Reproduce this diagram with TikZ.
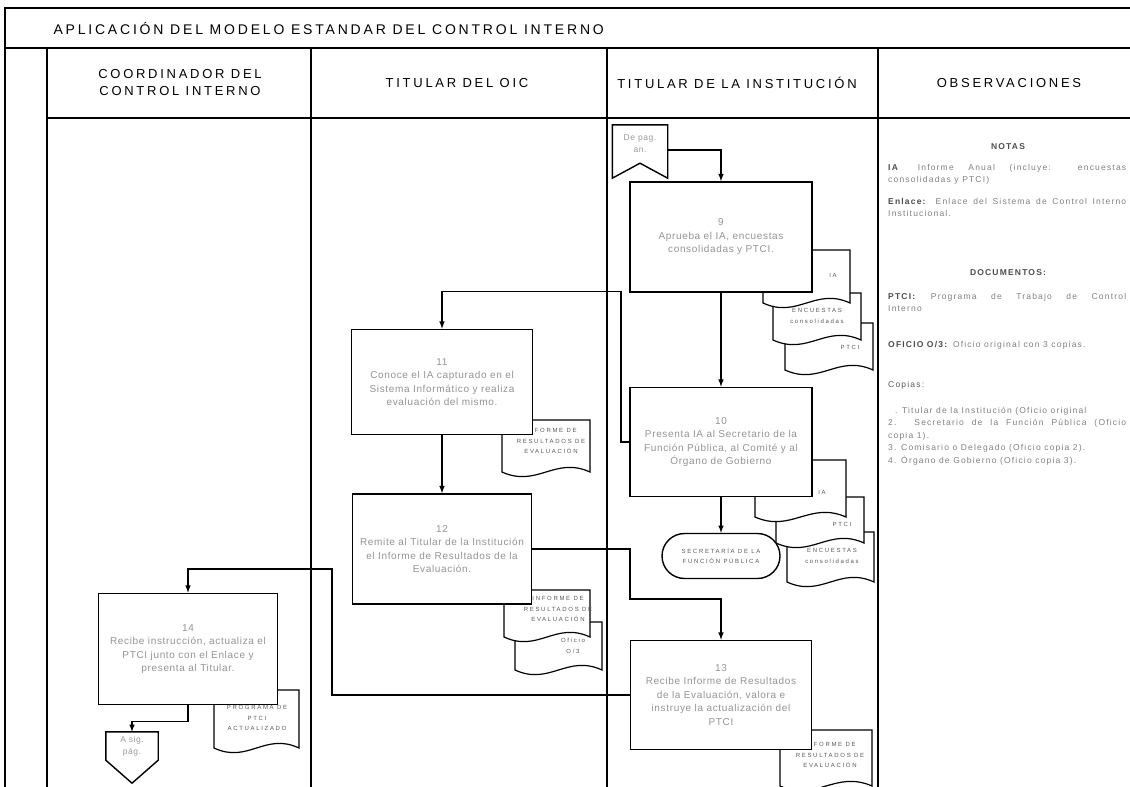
\documentclass[tikz,border=0pt]{standalone}
\usepackage{fontspec}
\setmainfont{Liberation Sans}
\newfontfamily\hdrfont[LetterSpace=21]{Liberation Sans}
\newfontfamily\ttlfont[LetterSpace=20]{Liberation Sans}
\newfontfamily\boxfont[LetterSpace=6.6]{Liberation Sans}
\newfontfamily\obsfont[LetterSpace=14]{Liberation Sans}
\newfontfamily\docfont[LetterSpace=28]{Liberation Sans}
\usetikzlibrary{shapes,arrows}
\usetikzlibrary{calc,positioning}

% document symbol: name, x1, y1, x2, y2, text x, text y, text
\newcommand{\docfig}[8]{%
  \pgfmathsetmacro{\dxa}{#2+0.4*(#4-#2)}%
  \pgfmathsetmacro{\dxb}{#4-0.4*(#4-#2)}%
  \filldraw[docline] (#2,#3) -- (#4,#3) -- (#4,#5) .. controls (\dxb,#5-16) and (\dxa,#5+16) .. (#2,#5) -- cycle;
  \node[doctext] (#1) at (#6,#7) {#8};
}

\begin{document}
\begin{tikzpicture}[x=1pt,y=-1pt,>=latex,
  frame/.style={line width=1.3pt},
  box/.style={draw,fill=white,line width=1.6pt,align=center,text=black!42,font=\boxfont\fontsize{10}{13.5}\selectfont},
  docline/.style={draw,fill=white,line width=1.2pt},
  doctext/.style={align=center,text=black!65,inner sep=0pt,font=\docfont\fontsize{6}{10.5}\selectfont},
  hdr/.style={align=center,font=\hdrfont\fontsize{13}{17}\selectfont},
  obs/.style={anchor=north west,inner sep=0pt,text width=238pt,align=justify,text=black!50,font=\obsfont\fontsize{8.5}{12.5}\selectfont},
  obshead/.style={text=black!70,font=\obsfont\bfseries\fontsize{8.5}{12.5}\selectfont},
  flow/.style={->,line width=1.5pt},
  conn/.style={inner sep=0pt,align=center,text=black!40,font=\boxfont\fontsize{8.5}{12}\selectfont},
  term/.style={draw,fill=white,rounded rectangle,line width=1.4pt,minimum width=118pt,minimum height=45pt,inner sep=0pt,align=center,text=black!65,font=\docfont\fontsize{6}{10}\selectfont}]

\useasboundingbox (0,0) rectangle (1130,787);
\clip (0,0) rectangle (1130,787);

% table
\draw[frame] (5,787) -- (5,8) -- (1140,8);
\draw[frame] (5,48) -- (1140,48);
\draw[frame] (47,48) -- (47,787);
\draw[frame] (47,118) -- (1140,118);
\foreach \cx in {311,607,878}
  \draw[frame] (\cx,48) -- (\cx,787);

\node[anchor=west,font=\ttlfont\fontsize{14}{17}\selectfont] (ttl) at (50,28) {APLICACIÓN DEL MODELO ESTANDAR DEL CONTROL INTERNO};
\node[hdr] (h1) at (180,83) {COORDINADOR DEL\\CONTROL INTERNO};
\node[hdr] (h2) at (457,83) {TITULAR DEL OIC};
\node[hdr] (h3) at (737,83) {TITULAR DE LA INSTITUCIÓN};
\node[hdr] (h4) at (1009,83) {OBSERVACIONES};

% documents
\docfig{d9c}{785}{323}{873}{370}{850}{347}{PTCI}
\docfig{d9b}{773}{293}{861}{340}{817}{316}{ENCUESTAS\\consolidadas}
\docfig{d9a}{763}{250}{850}{303}{833}{275}{IA}
\docfig{d10c}{787}{532}{874}{582}{832}{556}{ENCUESTAS\\consolidadas}
\docfig{d10b}{776}{497}{864}{543}{842}{524}{PTCI}
\docfig{d10a}{755}{460}{846}{517}{822}{492}{IA}
\docfig{d11}{502}{420}{590}{472}{551}{441}{INFORME DE\\RESULTADOS DE\\EVALUACIÓN}
\docfig{d12b}{515}{622}{602}{670}{573}{646}{Oficio\\O/3}
\docfig{d12a}{504}{590}{590}{637}{558}{609}{INFORME DE\\RESULTADOS DE\\EVALUACIÓN}
\docfig{d13}{780}{730}{872}{786}{830}{755}{INFORME DE\\RESULTADOS DE\\EVALUACIÓN}
\docfig{d14}{214}{690}{299}{748}{257}{718}{PROGRAMA DE\\PTCI\\ACTUALIZADO}

% steps
\node[box,minimum width=182pt,minimum height=110pt] (b9) at (721,237) {9\\Aprueba el IA, encuestas\\consolidadas y PTCI.};
\node[box,minimum width=182pt,minimum height=109pt] (b10) at (721,442) {10\\Presenta IA al Secretario de la\\Función Pública, al Comité y al\\Órgano de Gobierno};
\node[box,minimum width=181pt,minimum height=105pt] (b11) at (442,382) {11\\Conoce el IA capturado en el\\Sistema Informático y realiza\\evaluación del mismo.};
\node[box,minimum width=179pt,minimum height=110pt] (b12) at (442,549) {12\\Remite al Titular de la Institución\\el Informe de Resultados de la\\Evaluación.};
\node[box,minimum width=181pt,minimum height=109pt] (b13) at (721,695) {13\\Recibe Informe de Resultados\\de la Evaluación, valora e\\instruye la actualización del\\PTCI};
\node[box,minimum width=179pt,minimum height=111pt] (b14) at (188,649) {14\\Recibe instrucción, actualiza el\\PTCI junto con el Enlace y\\presenta al Titular.};

\node[term] (sfp) at (721,556) {SECRETARÍA DE LA\\FUNCIÓN PÚBLICA};

% page connectors
\node[conn,minimum width=55pt,minimum height=38pt] (dp) at (640,144) {De pag.\\an.};
\draw[line width=1.4pt] (dp.north west) -- (dp.north east) -- ($(dp.south east)+(0,15)$) -- (dp.south) -- ($(dp.south west)+(0,15)$) -- cycle;
\node[conn,minimum width=52pt,minimum height=28pt] (sp) at (132,746) {A sig.\\pág.};
\draw[line width=1.4pt] (sp.north west) -- (sp.north east) -- (sp.south east) -- ($(sp.south)+(0,23)$) -- (sp.south west) -- cycle;

% flow
\coordinate (k12) at (630,599);
\coordinate (k13) at (332,569);
\draw[flow] ($(dp.east)+(0,6)$) -| (b9.north);
\draw[flow] (b9) -- (b10);
\draw[flow] (b10.west) -- ++(-8,0) |- ($(b11.north)+(0,-37)$) -- (b11.north);
\draw[flow] (b10) -- (sfp);
\draw[flow] (b11) -- (b12);
\draw[flow] (b12.east) -| (k12) -| (b13.north);
\draw[flow] (b13.west) -| (k13) -| (b14.north);
\draw[flow] (b14.south) -- ++(0,16) -| (sp.north);

% observaciones
\node[obshead] (notas) at (1008,147) {NOTAS};
\node[obs] (o1) at (888,164) {\textcolor{black!70}{\textbf{IA}}\hspace{2.2em}Informe Anual (incluye: encuestas\linebreak consolidadas y PTCI)};
\node[obs] (o2) at (888,198) {\textcolor{black!70}{\textbf{Enlace:}} Enlace del Sistema de Control Interno\linebreak Institucional.};
\node[obshead] (docs) at (1008,273) {DOCUMENTOS:};
\node[obs] (o3) at (888,293) {\textcolor{black!70}{\textbf{PTCI:}} Programa de Trabajo de Control\linebreak Interno};
\node[obs] (o4) at (888,341) {\textcolor{black!70}{\textbf{OFICIO O/3:}} Oficio original con 3 copias.};
\node[obs,text=black!65] (o5) at (888,381) {Copias:};
\node[obs] (o6) at (888,407) {\hspace*{0.8em}. Titular de la Institución (Oficio original\\2. Secretario de la Función Pública (Oficio\linebreak copia 1).\\3. Comisario o Delegado (Oficio copia 2).\\4. Órgano de Gobierno (Oficio copia 3).};
\end{tikzpicture}
\end{document}
